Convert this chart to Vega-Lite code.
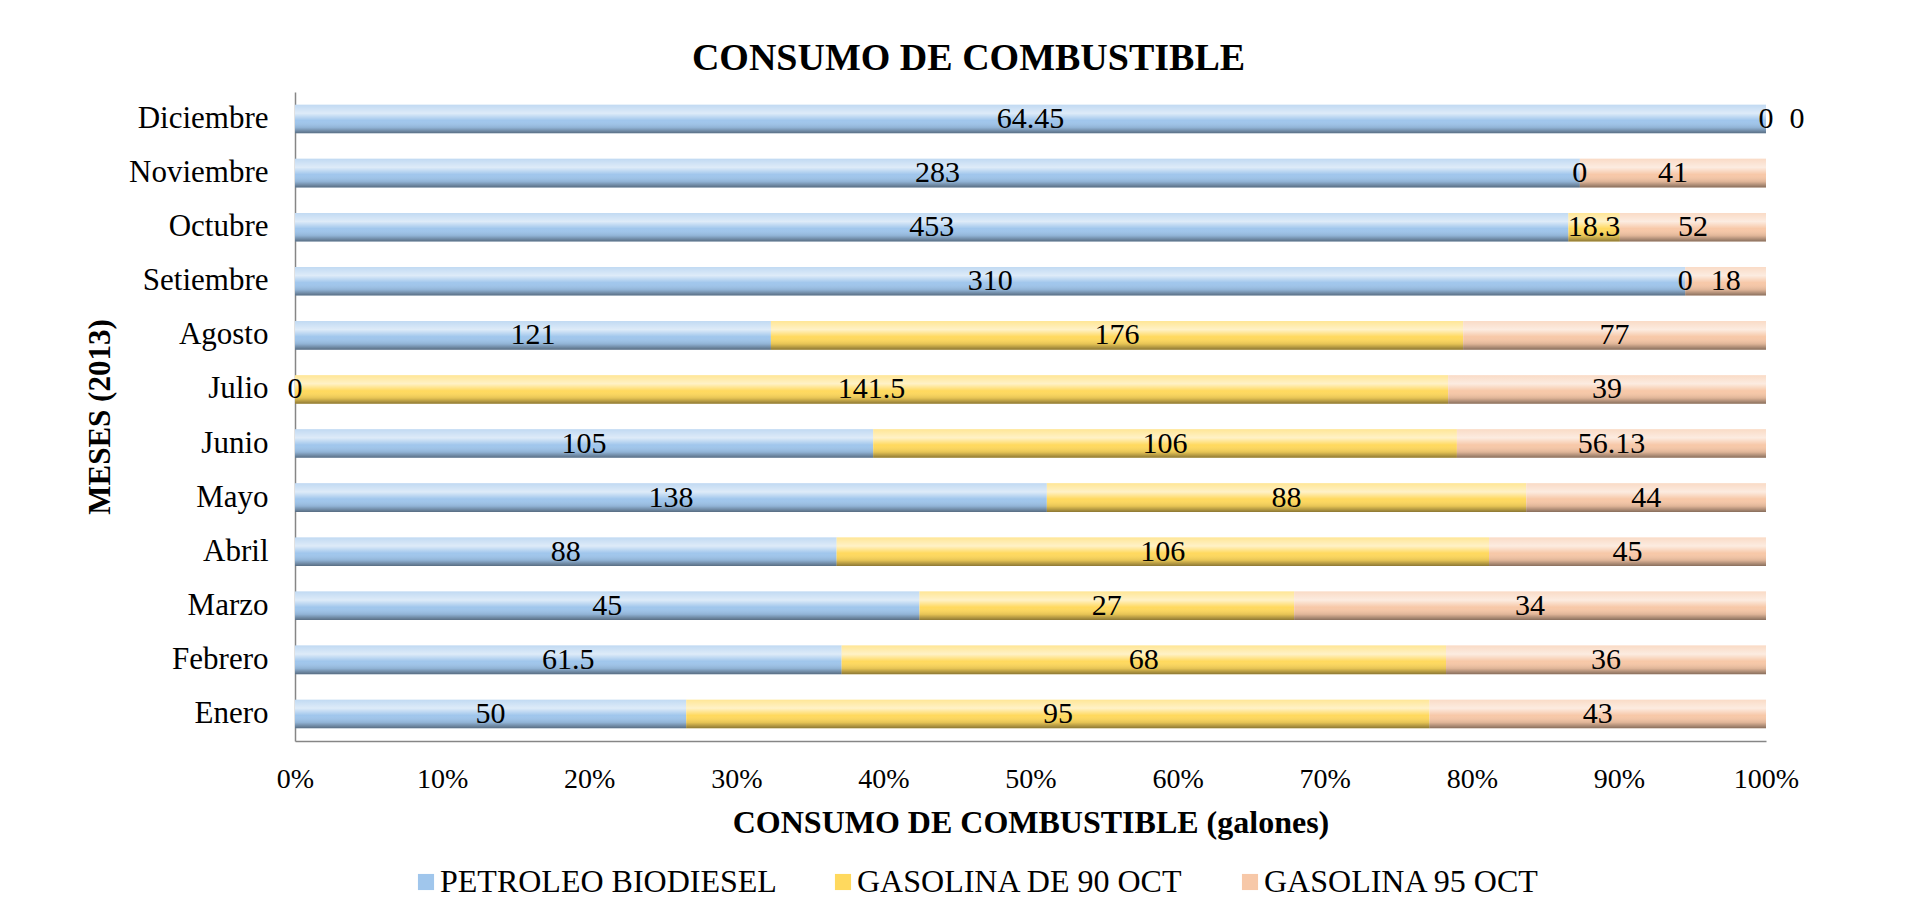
{
  "$schema": "https://vega.github.io/schema/vega-lite/v6.json",
  "autosize": "none",
  "width": 1471,
  "height": 649,
  "padding": {"left": 295, "top": 92, "right": 160, "bottom": 161},
  "background": "white",
  "config": {"font": "Liberation Serif", "view": {"stroke": null}, "legend": {"labelFont": "Liberation Serif"}, "text": {"font": "Liberation Serif"}},
  "title": {"text": "CONSUMO DE COMBUSTIBLE", "fontSize": 38, "fontWeight": "bold", "color": "black", "font": "Liberation Serif", "dx": -62, "offset": 14},
  "data": {"values": [
    {"mes": "Enero", "PETROLEO BIODIESEL": 50, "GASOLINA DE 90 OCT": 95, "GASOLINA 95 OCT": 43},
    {"mes": "Febrero", "PETROLEO BIODIESEL": 61.5, "GASOLINA DE 90 OCT": 68, "GASOLINA 95 OCT": 36},
    {"mes": "Marzo", "PETROLEO BIODIESEL": 45, "GASOLINA DE 90 OCT": 27, "GASOLINA 95 OCT": 34},
    {"mes": "Abril", "PETROLEO BIODIESEL": 88, "GASOLINA DE 90 OCT": 106, "GASOLINA 95 OCT": 45},
    {"mes": "Mayo", "PETROLEO BIODIESEL": 138, "GASOLINA DE 90 OCT": 88, "GASOLINA 95 OCT": 44},
    {"mes": "Junio", "PETROLEO BIODIESEL": 105, "GASOLINA DE 90 OCT": 106, "GASOLINA 95 OCT": 56.13},
    {"mes": "Julio", "PETROLEO BIODIESEL": 0, "GASOLINA DE 90 OCT": 141.5, "GASOLINA 95 OCT": 39},
    {"mes": "Agosto", "PETROLEO BIODIESEL": 121, "GASOLINA DE 90 OCT": 176, "GASOLINA 95 OCT": 77},
    {"mes": "Setiembre", "PETROLEO BIODIESEL": 310, "GASOLINA DE 90 OCT": 0, "GASOLINA 95 OCT": 18},
    {"mes": "Octubre", "PETROLEO BIODIESEL": 453, "GASOLINA DE 90 OCT": 18.3, "GASOLINA 95 OCT": 52},
    {"mes": "Noviembre", "PETROLEO BIODIESEL": 283, "GASOLINA DE 90 OCT": 0, "GASOLINA 95 OCT": 41},
    {"mes": "Diciembre", "PETROLEO BIODIESEL": 64.45, "GASOLINA DE 90 OCT": 0, "GASOLINA 95 OCT": 0}
  ]},
  "transform": [
    {"fold": ["PETROLEO BIODIESEL", "GASOLINA DE 90 OCT", "GASOLINA 95 OCT"], "as": ["tipo", "valor"]},
    {"stack": "valor", "groupby": ["mes"], "sort": [{"field": "tipo", "order": "descending"}], "offset": "normalize", "as": ["x0", "x1"]},
    {"calculate": "(datum.x0 + datum.x1) / 2", "as": "xm"}
  ],
  "encoding": {
    "y": {
      "field": "mes", "type": "nominal",
      "sort": ["Diciembre", "Noviembre", "Octubre", "Setiembre", "Agosto", "Julio", "Junio", "Mayo", "Abril", "Marzo", "Febrero", "Enero"],
      "scale": {"paddingInner": 0.47, "paddingOuter": 0.235},
      "axis": {
        "title": "MESES (2013)", "titleFontSize": 31, "titleFontWeight": "bold", "titleColor": "black", "titleFont": "Liberation Serif",
        "titleX": -186, "titleBaseline": "alphabetic",
        "labelFontSize": 31, "labelColor": "black", "labelFont": "Liberation Serif", "labelPadding": 27,
        "ticks": false, "tickSize": 0, "domainColor": "#868686", "domainWidth": 1.5, "grid": false
      }
    }
  },
  "layer": [
    {
      "mark": {"type": "bar"},
      "encoding": {
        "x": {
          "field": "x0", "type": "quantitative", "scale": {"domain": [0, 1]},
          "axis": {
            "title": "CONSUMO DE COMBUSTIBLE (galones)", "titleFontSize": 32, "titleFontWeight": "bold", "titleColor": "black", "titleFont": "Liberation Serif",
            "titleY": 66, "titleBaseline": "top",
            "format": "%", "values": [0, 0.1, 0.2, 0.3, 0.4, 0.5, 0.6, 0.7, 0.8, 0.9, 1],
            "labelFontSize": 28, "labelColor": "black", "labelFont": "Liberation Serif", "labelPadding": 24, "labelFlush": false, "labelOverlap": false,
            "ticks": false, "tickSize": 0, "domainColor": "#868686", "domainWidth": 1.5, "grid": false
          }
        },
        "x2": {"field": "x1"},
        "color": {
          "field": "tipo", "type": "nominal",
          "scale": {"domain": ["PETROLEO BIODIESEL", "GASOLINA DE 90 OCT", "GASOLINA 95 OCT"], "range": ["#A0C6EC", "#FFD95E", "#F7C8A8"]},
          "legend": {
            "orient": "none", "legendX": 115, "legendY": 774, "direction": "horizontal", "title": null,
            "labelFontSize": 32, "labelFont": "Liberation Serif", "labelColor": "black", "labelOffset": -2, "labelLimit": 0,
            "symbolType": "square", "symbolSize": 260, "symbolStrokeWidth": 0, "columnPadding": 50
          }
        }
      }
    },
    {
      "mark": {"type": "bar", "color": {"gradient": "linear", "x1": 0, "y1": 0, "x2": 0, "y2": 1, "stops": [
        {"offset": 0, "color": "rgba(255,255,255,0.35)"},
        {"offset": 0.3, "color": "rgba(255,255,255,0.65)"},
        {"offset": 0.55, "color": "rgba(255,255,255,0)"},
        {"offset": 0.8, "color": "rgba(0,0,0,0.1)"},
        {"offset": 1, "color": "rgba(0,0,0,0.45)"}
      ]}},
      "encoding": {
        "x": {"field": "x0", "type": "quantitative"},
        "x2": {"field": "x1"}
      }
    },
    {
      "transform": [{"filter": "!(datum.mes == 'Diciembre' && datum.tipo == 'GASOLINA 95 OCT')"}],
      "mark": {"type": "text", "fontSize": 30, "font": "Liberation Serif", "color": "black", "baseline": "middle"},
      "encoding": {
        "x": {"field": "xm", "type": "quantitative"},
        "text": {"field": "valor", "type": "nominal"}
      }
    },
    {
      "transform": [{"filter": "datum.mes == 'Diciembre' && datum.tipo == 'GASOLINA 95 OCT'"}],
      "mark": {"type": "text", "fontSize": 30, "font": "Liberation Serif", "color": "black", "baseline": "middle", "dx": 31},
      "encoding": {
        "x": {"field": "xm", "type": "quantitative"},
        "text": {"field": "valor", "type": "nominal"}
      }
    }
  ]
}
